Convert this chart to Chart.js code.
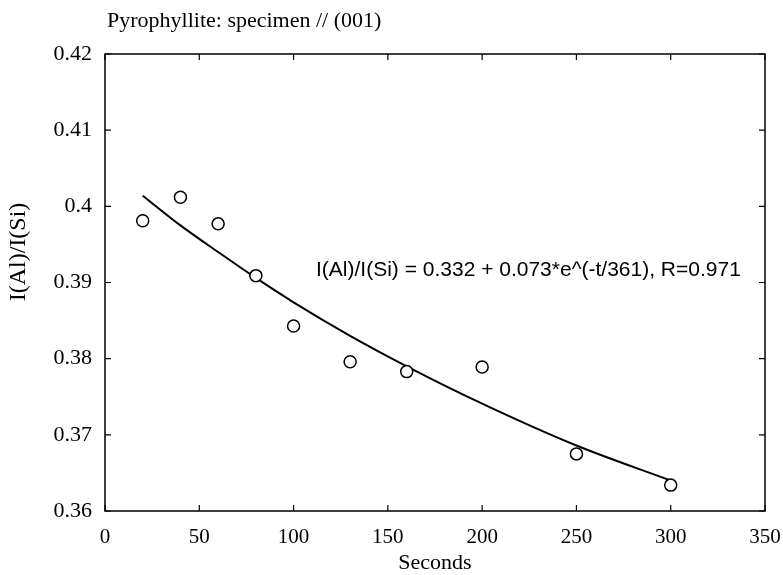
<!DOCTYPE html>
<html>
<head>
<meta charset="utf-8">
<script src="https://cdn.jsdelivr.net/npm/chart.js@4/dist/chart.umd.min.js"></script>
<style>
  html, body { margin: 0; padding: 0; background: #fff; }
  #wrap { width: 783px; height: 575px; }
</style>
</head>
<body>
<div id="wrap"><canvas id="chart" width="783" height="575"></canvas></div>
<script>
// DATA
const seconds = [20, 40, 60, 80, 100, 130, 160, 200, 250, 300];
const ratio = [0.3981, 0.4012, 0.3977, 0.3909, 0.3843, 0.3796, 0.3783, 0.3789, 0.3675, 0.3634];
const fitSeconds = [20, 40, 60, 80, 100, 130, 160, 200, 250, 300];
const fitRatio = [0.4014, 0.3975, 0.3940, 0.3906, 0.3874, 0.3830, 0.3790, 0.3741, 0.3686, 0.3640];
const xTicks = [0, 50, 100, 150, 200, 250, 300, 350];
const yTicks = [0.36, 0.37, 0.38, 0.39, 0.40, 0.41, 0.42];

const titleText = "Pyrophyllite: specimen // (001)";
const xTitle = "Seconds";
const yTitle = "I(Al)/I(Si)";
const fitText = "I(Al)/I(Si) = 0.332 + 0.073*e^(-t/361), R=0.971";

const serif = '"Liberation Serif", "Times New Roman", serif';
const sans = '"Liberation Sans", Arial, sans-serif';

// FRAME, INWARD TICKS AND TEXTS
const framePlugin = {
  id: "frame",
  afterDraw(chart) {
    const ctx = chart.ctx;
    const area = chart.chartArea;
    const xs = chart.scales.x;
    const ys = chart.scales.y;
    const tl = 6;
    ctx.save();
    ctx.strokeStyle = "#000";
    ctx.lineWidth = 1.5;
    ctx.strokeRect(area.left, area.top, area.right - area.left, area.bottom - area.top);
    ctx.lineWidth = 1.2;
    ctx.beginPath();
    xTicks.forEach((v) => {
      const px = xs.getPixelForValue(v);
      ctx.moveTo(px, area.bottom);
      ctx.lineTo(px, area.bottom - tl);
      ctx.moveTo(px, area.top);
      ctx.lineTo(px, area.top + tl);
    });
    yTicks.forEach((v) => {
      const py = ys.getPixelForValue(v);
      ctx.moveTo(area.left, py);
      ctx.lineTo(area.left + tl, py);
      ctx.moveTo(area.right, py);
      ctx.lineTo(area.right - tl, py);
    });
    ctx.stroke();

    ctx.fillStyle = "#000";
    ctx.textBaseline = "middle";
    ctx.textAlign = "left";
    ctx.font = "22px " + serif;
    ctx.fillText(titleText, 107, 21);

    ctx.textAlign = "center";
    ctx.font = "22px " + serif;
    ctx.fillText(xTitle, (area.left + area.right) / 2, 563);

    ctx.save();
    ctx.translate(19, 252);
    ctx.rotate(-Math.PI / 2);
    ctx.font = "24px " + serif;
    ctx.fillText(yTitle, 0, 0);
    ctx.restore();

    ctx.textAlign = "left";
    ctx.font = "21px " + sans;
    ctx.fillText(fitText, 316, 270);
    ctx.restore();
  },
};

const config = {
  type: "scatter",
  data: {
    datasets: [
      {
        label: "data",
        data: seconds.map((s, i) => ({ x: s, y: ratio[i] })),
        pointStyle: "circle",
        pointRadius: 6,
        pointBorderWidth: 1.5,
        pointBackgroundColor: "#fff",
        pointBorderColor: "#000",
        showLine: false,
        order: 1,
      },
      {
        label: "fit",
        data: fitSeconds.map((s, i) => ({ x: s, y: fitRatio[i] })),
        showLine: true,
        borderColor: "#000",
        borderWidth: 2,
        pointRadius: 0,
        tension: 0.4,
        cubicInterpolationMode: "monotone",
        order: 2,
      },
    ],
  },
  options: {
    responsive: false,
    animation: false,
    events: [],
    layout: { padding: { left: 0, top: 54, right: 18, bottom: 0 } },
    plugins: {
      legend: { display: false },
      tooltip: { enabled: false },
    },
    scales: {
      x: {
        type: "linear",
        min: 0,
        max: 350,
        afterFit: (scale) => {
          scale.height = 64;
          scale.paddingLeft = 0;
          scale.paddingRight = 0;
        },
        afterBuildTicks: (scale) => { scale.ticks = xTicks.map((v) => ({ value: v })); },
        grid: { display: false, drawTicks: false },
        border: { display: false },
        ticks: {
          color: "#000",
          padding: 14,
          maxRotation: 0,
          font: { family: serif, size: 21 },
        },
      },
      y: {
        type: "linear",
        min: 0.36,
        max: 0.42,
        afterFit: (scale) => {
          scale.width = 105;
          scale.paddingTop = 0;
          scale.paddingBottom = 0;
        },
        afterBuildTicks: (scale) => { scale.ticks = yTicks.map((v) => ({ value: v })); },
        grid: { display: false, drawTicks: false },
        border: { display: false },
        ticks: {
          color: "#000",
          padding: 13,
          font: { family: serif, size: 22 },
          callback: (v) => String(Number(v.toFixed(3))),
        },
      },
    },
  },
  plugins: [framePlugin],
};

new Chart(document.getElementById("chart"), config);
</script>
</body>
</html>
